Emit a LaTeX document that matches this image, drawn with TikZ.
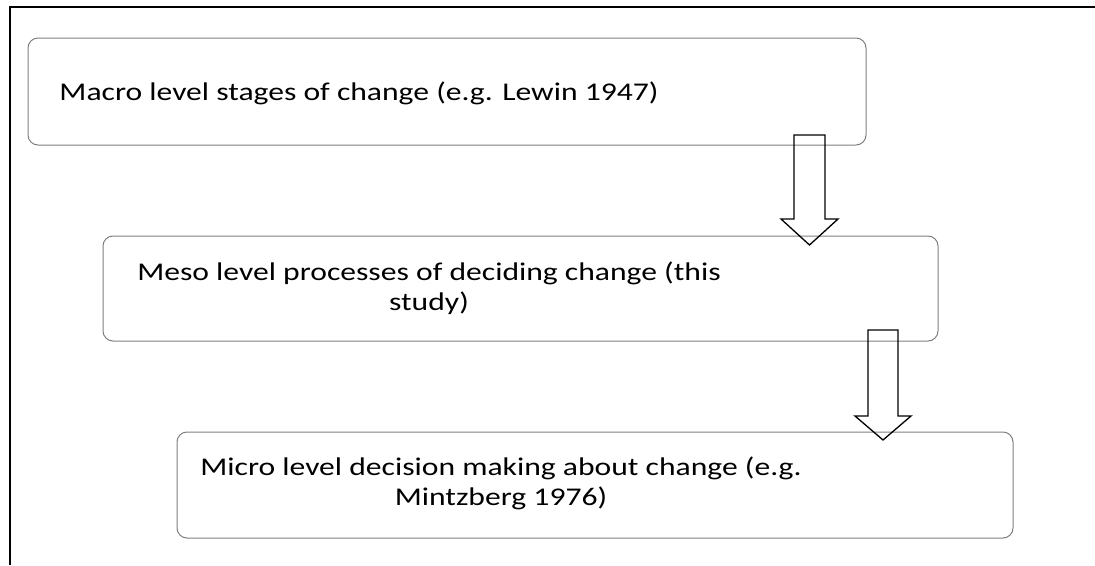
\documentclass[tikz,border=0pt]{standalone}
\usepackage{fontspec}
\setmainfont{Carlito}
\usepackage{graphicx}
\definecolor{boxgray}{HTML}{7F7F7F}
\begin{document}
\begin{tikzpicture}[x=1pt,y=-1pt,
  box/.style={draw=boxgray, line width=1pt, rounded corners=10pt, inner sep=0pt},
  lbl/.style={inner sep=0pt, anchor=base, font=\fontsize{25.5}{30}\selectfont},
  bigarrow/.style={draw=black, line width=1.3pt, line join=miter}]
\useasboundingbox (0,0) rectangle (1095,565);
% outer frame
\coordinate (frameTR) at (1095,6.5);
\coordinate (frameTL) at (10,6.5);
\coordinate (frameBL) at (10,565);
\draw[line width=2pt] (frameTR) -- (frameTL) -- (frameBL);
% boxes
\node[box, minimum width=838pt, minimum height=107pt] (macro) at (447,91.5) {};
\node[box, minimum width=835pt, minimum height=105pt] (meso) at (520.5,288.5) {};
\node[box, minimum width=836pt, minimum height=106pt] (micro) at (595,485) {};
% texts
\node[lbl] (macrotext) at (359,100) {\scalebox{1.24}[1]{Macro level stages of change (e.g. Lewin 1947)}};
\node[lbl] (mesotext) at (429,280) {\scalebox{1.24}[1]{\begin{tabular}[t]{@{}c@{}}Meso level processes of deciding change (this\\study)\end{tabular}}};
\node[lbl] (microtext) at (501,475) {\scalebox{1.24}[1]{\begin{tabular}[t]{@{}c@{}}Micro level decision making about change (e.g.\\Mintzberg 1976)\end{tabular}}};
% block arrows
\draw[bigarrow] (794,135) -- (825,135) -- (825,219) -- (838,219) -- (809.5,245) -- (781,219) -- (794,219) -- cycle;
\draw[bigarrow] (868,330) -- (898,330) -- (898,416) -- (911,416) -- (883,440) -- (855,416) -- (868,416) -- cycle;
\end{tikzpicture}
\end{document}
